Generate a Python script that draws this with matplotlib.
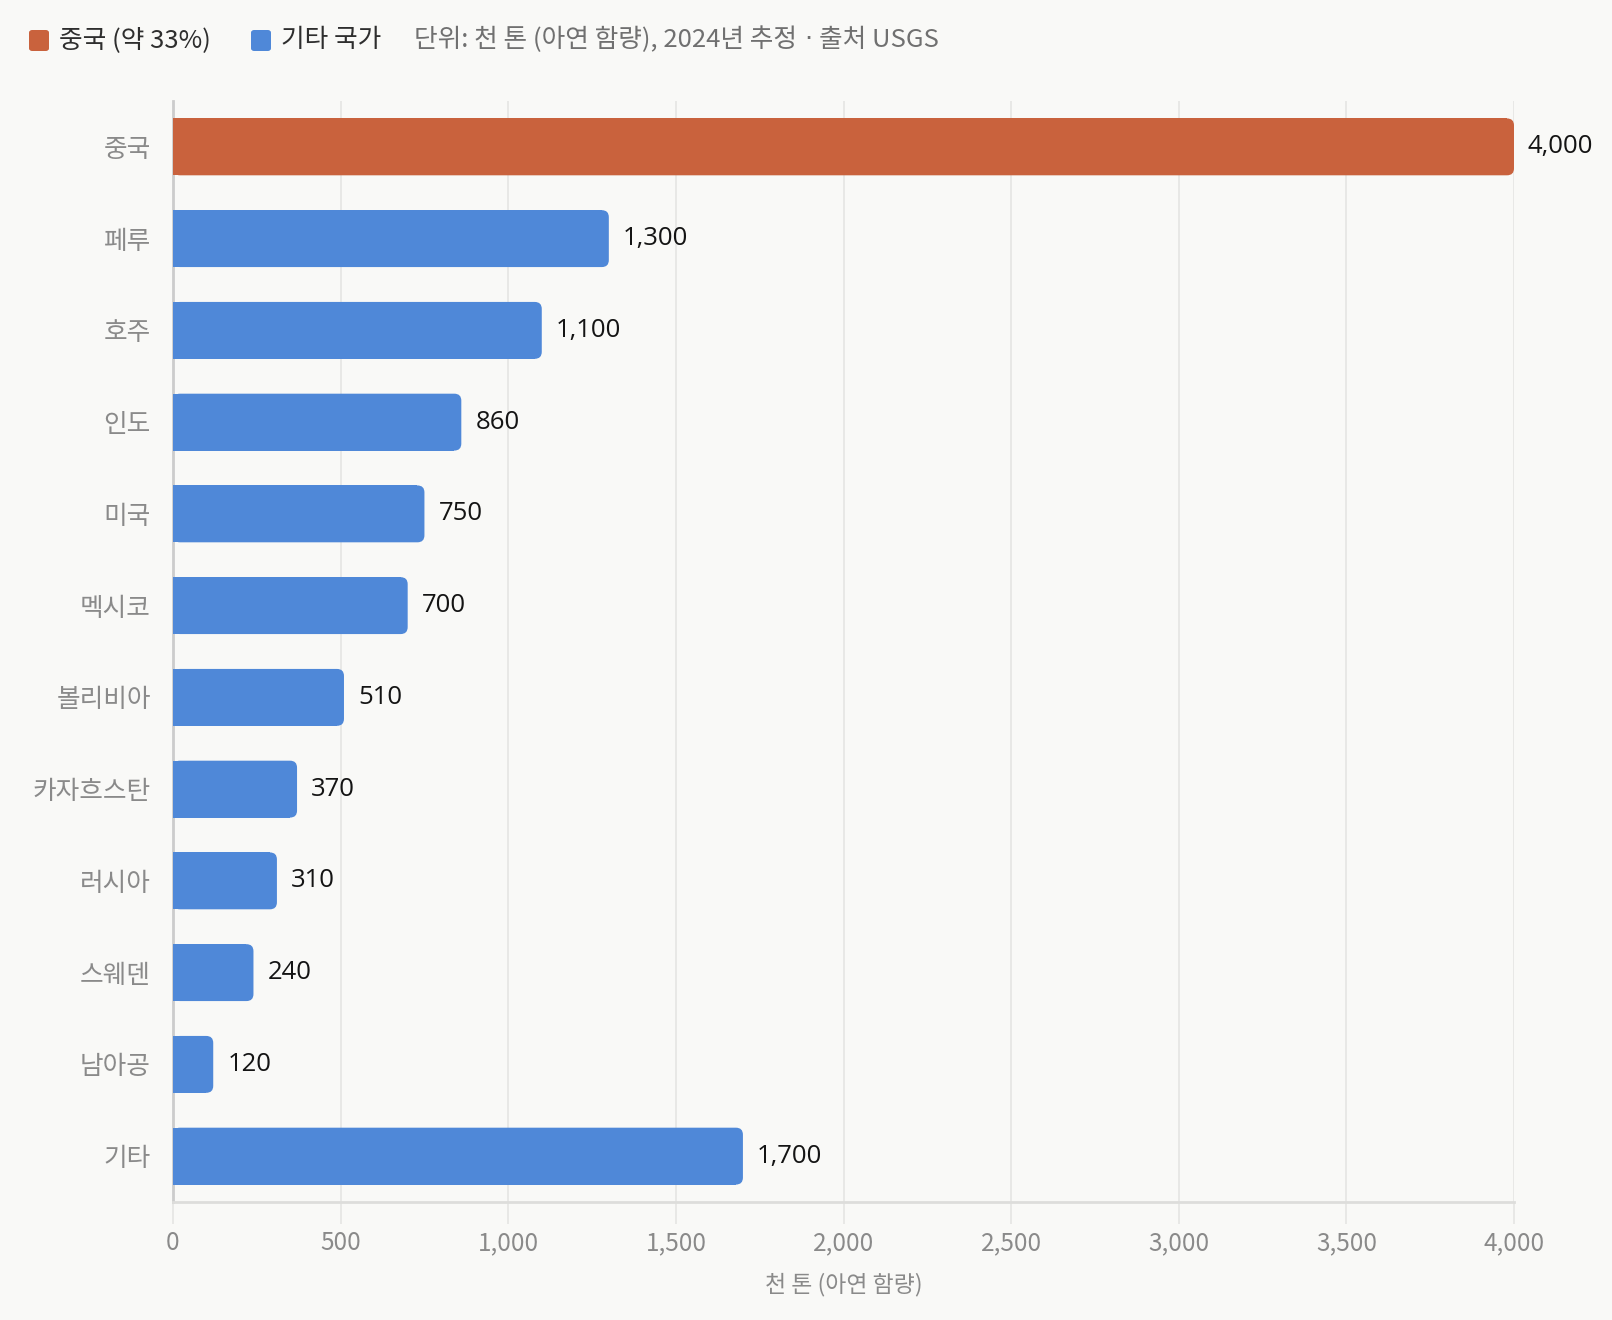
import matplotlib
matplotlib.use("Agg")
import matplotlib.pyplot as plt
from matplotlib.patches import FancyBboxPatch, Rectangle
from matplotlib.ticker import FuncFormatter, MultipleLocator

plt.rcParams['font.family'] = ['Noto Sans CJK KR', 'DejaVu Sans']

countries = ["중국", "페루", "호주", "인도", "미국", "멕시코", "볼리비아",
             "카자흐스탄", "러시아", "스웨덴", "남아공", "기타"]
values = [4000, 1300, 1100, 860, 750, 700, 510, 370, 310, 240, 120, 1700]
groups = ["china"] + ["other"] * 11
legend_labels = ["중국 (약 33%)", "기타 국가"]
note_parts = ["단위: 천 톤 (아연 함량), 2024년 추정", "·", "출처 USGS"]
x_label = "천 톤 (아연 함량)"

COL = {"china": "#C9623D", "other": "#4F88D8"}
BG = "#F9F9F7"
GRID = "#E7E7E5"

W, H = 1612, 1320
fig = plt.figure(figsize=(W / 100, H / 100), dpi=100, facecolor=BG)
ax = fig.add_axes([173 / W, 1 - 1202 / H, (1514 - 173) / W, (1202 - 101) / H])
ax.set_facecolor(BG)

n = len(countries)
ax.set_xlim(0, 4000)
ax.set_ylim(n - 0.5, -0.5)

bar_h = 0.62
fig.canvas.draw()
bb = ax.get_window_extent()
x_per_px = 4000 / bb.width
y_per_px = n / bb.height
r_px = 7
rx = r_px * x_per_px
aspect = y_per_px / x_per_px

for i, (v, g) in enumerate(zip(values, groups)):
    c = COL[g]
    y0 = i - bar_h / 2
    ax.add_patch(Rectangle((0, y0), v - rx, bar_h, facecolor=c, edgecolor="none", zorder=3))
    ax.add_patch(FancyBboxPatch((0, y0), v, bar_h,
                                boxstyle=f"round,pad=0,rounding_size={rx}",
                                mutation_aspect=aspect,
                                facecolor=c, edgecolor="none", zorder=3))
    ax.text(v + 14 * x_per_px, i, f"{v:,}", va="center", ha="left",
            fontsize=18.5, color="#141414", zorder=4, family=["Open Sans", "DejaVu Sans"])

ax.set_yticks(range(n))
ax.set_yticklabels(countries)
ax.tick_params(axis="y", length=0, pad=16, labelsize=18.5, labelcolor="#8A8A8A")
ax.xaxis.set_major_locator(MultipleLocator(500))
ax.xaxis.set_major_formatter(FuncFormatter(lambda x, p: f"{int(x):,}"))
ax.tick_params(axis="x", length=16, width=1.3, color=GRID, pad=4,
               labelsize=17.5, labelcolor="#8A8A8A")
ax.grid(axis="x", color=GRID, linewidth=1.3, zorder=0)
ax.set_axisbelow(True)

for s in ["top", "right"]:
    ax.spines[s].set_visible(False)
ax.spines["left"].set_color("#CCCCCC")
ax.spines["left"].set_linewidth(2)
ax.spines["bottom"].set_color("#DDDDDB")
ax.spines["bottom"].set_linewidth(2)

ax.set_xlabel(x_label, fontsize=16.5, color="#8A8A8A", labelpad=12)

# legend header
ly = 1 - 40 / H
for (x0, lbl, g) in [(29, legend_labels[0], "china"), (251, legend_labels[1], "other")]:
    fig.patches.append(FancyBboxPatch((x0 / W, 1 - 51 / H), 20 / W, 21 / H,
                                      boxstyle="round,pad=0,rounding_size=0.002",
                                      transform=fig.transFigure,
                                      facecolor=COL[g], edgecolor="none"))
    fig.text((x0 + 30) / W, ly, lbl, fontsize=18.5, color="#2E2E2E", va="center", ha="left")

renderer = fig.canvas.get_renderer()
xpos = 414
for k, part in enumerate(note_parts):
    fam = ["DejaVu Sans"] if part == "·" else ["Noto Sans CJK KR", "DejaVu Sans"]
    t = fig.text(xpos / W, ly, part, fontsize=18.5, color="#707070", va="center",
                 ha="left", family=fam)
    ext = t.get_window_extent(renderer)
    xpos = ext.x1 + 7

fig.savefig("out.png", dpi=100, facecolor=BG)
